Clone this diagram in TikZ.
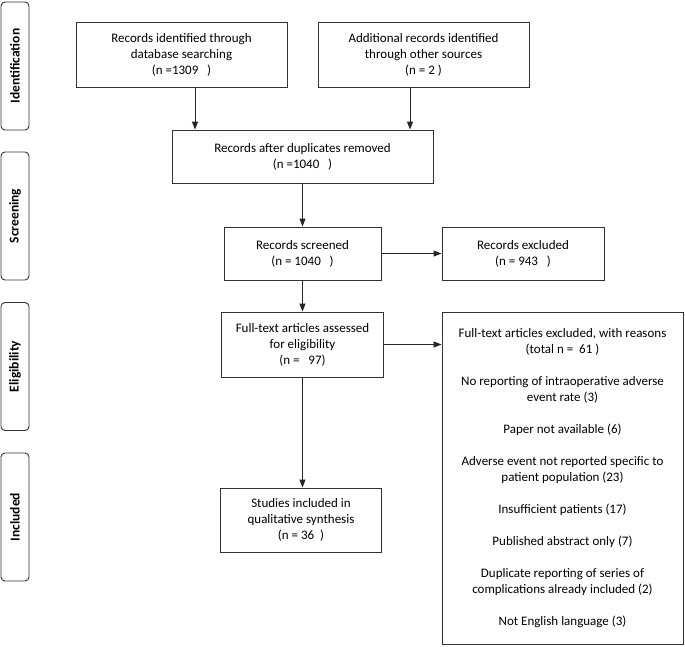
\documentclass[tikz,border=0pt]{standalone}
\usepackage{fontspec}
\setmainfont{Carlito}
\usetikzlibrary{arrows.meta,calc}
\begin{document}
\begin{tikzpicture}[x=1pt,y=-1pt,
  every node/.style={font=\fontsize{13}{16}\selectfont, text=black},
  flowbox/.style={draw=black!80, line width=0.9pt, rectangle, align=center, inner sep=0pt},
  sidebox/.style={draw=black!80, line width=0.9pt, rectangle, rounded corners=4pt, minimum width=28pt, minimum height=128pt, inner sep=0pt},
  sidelabel/.style={rotate=90, font=\fontsize{13.5}{16}\selectfont\bfseries},
  arr/.style={draw=black!85, line width=0.9pt, -{Triangle[length=8pt,width=6pt]}}]
\useasboundingbox (0,0) rectangle (685,646);
% side phase boxes
\node[sidebox] (s1) at (15,66) {};
\node[sidelabel] (l1) at (s1.center) {Identification};
\node[sidebox] (s2) at (15,216) {};
\node[sidelabel] (l2) at (s2.center) {Screening};
\node[sidebox] (s3) at (15,366.5) {};
\node[sidelabel] (l3) at (s3.center) {Eligibility};
\node[sidebox] (s4) at (15,517) {};
\node[sidelabel] (l4) at (s4.center) {Included};
% flow boxes
\node[flowbox, minimum width=211pt, minimum height=65pt] (A) at (181.5,54.5)
  {Records identified through\\database searching\\(n =1309\ \ \ )};
\node[flowbox, minimum width=211pt, minimum height=65pt] (B) at (423.5,54.5)
  {Additional records identified\\through other sources\\(n = 2\ )};
\node[flowbox, minimum width=261pt, minimum height=53pt] (C) at (302.5,156.5)
  {Records after duplicates removed\\(n =1040\ \ \ )};
\node[flowbox, minimum width=157pt, minimum height=53pt] (D) at (302.5,253.5)
  {Records screened\\(n = 1040\ \ \ )};
\node[flowbox, minimum width=162pt, minimum height=53pt] (E) at (523,253.5)
  {Records excluded\\(n = 943\ \ \ )};
\node[flowbox, minimum width=162pt, minimum height=65pt] (F) at (302.5,344.5)
  {Full-text articles assessed\\for eligibility\\(n =\ \ \ 97)};
\node[flowbox, minimum width=241pt, minimum height=332pt] (G) at (562.5,478)
  {Full-text articles excluded, with reasons\\(total n =\ \ 61 )\\[16pt]
   No reporting of intraoperative adverse\\event rate (3)\\[16pt]
   Paper not available (6)\\[16pt]
   Adverse event not reported specific to\\patient population (23)\\[16pt]
   Insufficient patients (17)\\[16pt]
   Published abstract only (7)\\[16pt]
   Duplicate reporting of series of\\complications already included (2)\\[16pt]
   Not English language (3)};
\node[flowbox, minimum width=161pt, minimum height=64pt] (H) at (301,520)
  {Studies included in\\qualitative synthesis\\(n = 36\ \ )};
% connectors
\coordinate (xa) at (195,0);
\coordinate (xb) at (410,0);
\draw[arr] (A.south -| xa) -- (C.north -| xa);
\draw[arr] (B.south -| xb) -- (C.north -| xb);
\draw[arr] (C.south) -- (D.north);
\draw[arr] (D.east) -- (E.west);
\draw[arr] (D.south) -- (F.north);
\draw[arr] (F.east) -- (F.east -| G.west);
\draw[arr] (F.south) -- (F.south |- H.north);
\end{tikzpicture}
\end{document}
